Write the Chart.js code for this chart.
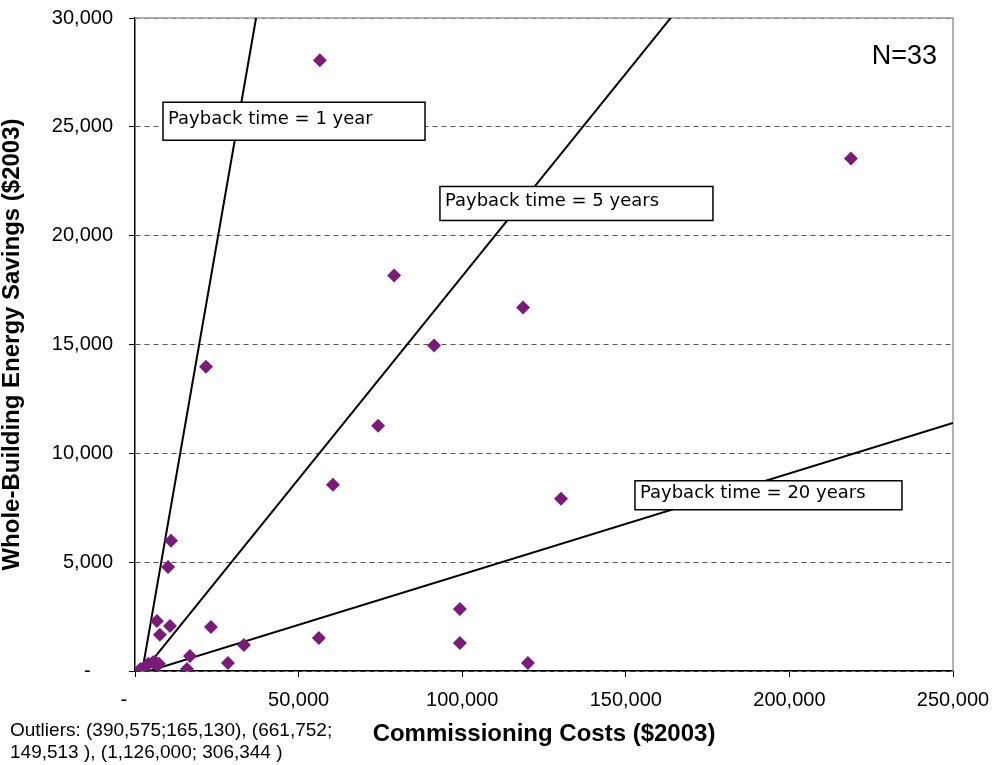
<!DOCTYPE html>
<html>
<head>
<meta charset="utf-8">
<script src="https://cdn.jsdelivr.net/npm/chart.js@4.4.1/dist/chart.umd.min.js"></script>
<style>
  html, body { margin: 0; padding: 0; background: #fff; }
  #wrap { width: 994px; height: 765px; position: relative; }
</style>
</head>
<body>
<div id="wrap"><canvas id="myChart"></canvas></div>
<script>
// commissioning cost vs savings per building ($2003), 30 shown + 3 outliers off-scale
const costs = [56500, 218800, 79200, 118600, 91400, 21700, 74300, 60500, 130200, 11000,
               10100, 6700, 10700, 23200, 7600, 99300, 56200, 99300, 33300, 16800,
               28400, 15900, 120100, 1700, 3500, 4100, 5500, 6100, 6800, 7300];
const savings = [28060, 23550, 18170, 16700, 14950, 13980, 11270, 8560, 7910, 5980,
                 4780, 2300, 2070, 2020, 1660, 2850, 1520, 1290, 1200, 690,
                 370, 90, 370, 90, 250, 330, 400, 430, 250, 330];

// payback reference lines (start, end)
const lineCosts1 = [2100, 37000];
const lineSavings1 = [-100, 30000];
const lineCosts5 = [2100, 164400];
const lineSavings5 = [-100, 30130];
const lineCosts20 = [2100, 250000];
const lineSavings20 = [-100, 11400];

const xTicks = [0, 50000, 100000, 150000, 200000, 250000];
const yTicks = [0, 5000, 10000, 15000, 20000, 25000, 30000];

const toPoints = (xs, ys) => xs.map((x, i) => ({x: x, y: ys[i]}));
const fmt = v => v === 0 ? '-    ' : v.toLocaleString('en-US');

const boxLabels = [
    {text: 'Payback time = 1 year', x: 8560, y: 26130, w: 262, h: 38},
    {text: 'Payback time = 5 years', x: 93200, y: 22260, w: 273, h: 34},
    {text: 'Payback time = 20 years', x: 152800, y: 8740, w: 267, h: 29}
];

const extras = {
    id: 'extras',
    beforeDatasetsDraw(chart) {
        const {ctx, chartArea} = chart;
        ctx.save();
        ctx.strokeStyle = '#9a9a9a';
        ctx.lineWidth = 1.5;
        ctx.beginPath();
        ctx.moveTo(chartArea.left, chartArea.top);
        ctx.lineTo(chartArea.right, chartArea.top);
        ctx.lineTo(chartArea.right, chartArea.bottom);
        ctx.stroke();
        ctx.restore();
    },
    afterDatasetsDraw(chart) {
        const {ctx, chartArea, scales} = chart;
        ctx.save();
        boxLabels.forEach(b => {
            const px = scales.x.getPixelForValue(b.x);
            const py = scales.y.getPixelForValue(b.y);
            ctx.fillStyle = '#fff';
            ctx.fillRect(px, py, b.w, b.h);
            ctx.strokeStyle = '#000';
            ctx.lineWidth = 1.5;
            ctx.strokeRect(px, py, b.w, b.h);
            ctx.fillStyle = '#000';
            ctx.font = '18px "DejaVu Sans"';
            ctx.textAlign = 'left';
            ctx.textBaseline = 'middle';
            ctx.fillText(b.text, px + 5, py + b.h / 2 - 2);
        });
        ctx.font = '27px "Liberation Sans", Arial';
        ctx.textAlign = 'right';
        ctx.fillText('N=33', chartArea.right - 16, chartArea.top + 39);
        ctx.restore();
    },
    afterDraw(chart) {
        const {ctx} = chart;
        ctx.save();
        ctx.fillStyle = '#000';
        ctx.font = '19px "Liberation Sans", Arial';
        ctx.textAlign = 'left';
        ctx.textBaseline = 'middle';
        ctx.fillText('Outliers: (390,575;165,130), (661,752;', 10, 731);
        ctx.fillText('149,513 ), (1,126,000; 306,344 )', 10, 753);
        ctx.restore();
    }
};

const ctx = document.getElementById('myChart').getContext('2d');
const myChart = new Chart(ctx, {
    type: 'scatter',
    data: {
        datasets: [
            {
                label: 'Buildings',
                data: toPoints(costs, savings),
                backgroundColor: '#7b1a7b',
                borderColor: '#7b1a7b',
                pointStyle: 'rectRot',
                pointRadius: 7,
                borderWidth: 0
            },
            {
                label: '1 year',
                data: toPoints(lineCosts1, lineSavings1),
                showLine: true,
                borderColor: '#000',
                borderWidth: 2,
                pointRadius: 0
            },
            {
                label: '5 years',
                data: toPoints(lineCosts5, lineSavings5),
                showLine: true,
                borderColor: '#000',
                borderWidth: 2,
                pointRadius: 0
            },
            {
                label: '20 years',
                data: toPoints(lineCosts20, lineSavings20),
                showLine: true,
                borderColor: '#000',
                borderWidth: 2,
                pointRadius: 0
            }
        ]
    },
    options: {
        responsive: true,
        maintainAspectRatio: false,
        animation: false,
        layout: {
            padding: {left: 0, right: 41, top: 18, bottom: 0}
        },
        scales: {
            x: {
                min: 0,
                max: 250000,
                afterFit: s => {
                    s.height = 94;
                    s.paddingLeft = 0;
                    s.paddingRight = 0;
                },
                afterBuildTicks: s => { s.ticks = xTicks.map(v => ({value: v})); },
                ticks: {
                    callback: fmt,
                    color: '#000',
                    padding: 11,
                    maxRotation: 0,
                    font: {family: '"Liberation Sans", Arial', size: 20}
                },
                grid: {
                    drawOnChartArea: false,
                    drawTicks: true,
                    tickLength: 6,
                    tickColor: '#000'
                },
                border: {color: '#000', width: 1.5},
                title: {
                    display: true,
                    text: 'Commissioning Costs ($2003)',
                    color: '#000',
                    padding: {top: 0, bottom: 16},
                    font: {family: '"Liberation Sans", Arial', size: 24, weight: 'bold'}
                }
            },
            y: {
                min: 0,
                max: 30000,
                afterFit: s => {
                    s.width = 135;
                    s.paddingTop = 0;
                    s.paddingBottom = 0;
                },
                afterBuildTicks: s => { s.ticks = yTicks.map(v => ({value: v})); },
                ticks: {
                    callback: fmt,
                    color: '#000',
                    padding: 16,
                    font: {family: '"Liberation Sans", Arial', size: 20}
                },
                grid: {
                    color: '#555',
                    drawTicks: true,
                    tickLength: 6,
                    tickColor: '#000',
                    tickBorderDash: []
                },
                border: {color: '#000', width: 1.5, dash: [5, 4]},
                title: {
                    display: true,
                    text: 'Whole-Building Energy Savings ($2003)',
                    color: '#000',
                    padding: {top: 0, bottom: 0},
                    font: {family: '"Liberation Sans", Arial', size: 24, weight: 'bold', lineHeight: 1}
                }
            }
        },
        plugins: {
            legend: {display: false},
            tooltip: {enabled: false}
        }
    },
    plugins: [extras]
});
</script>
</body>
</html>
